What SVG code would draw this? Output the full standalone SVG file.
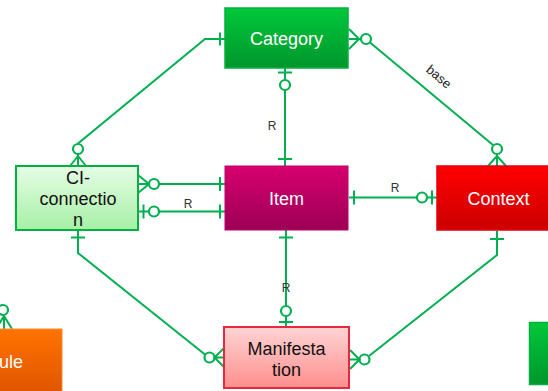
<svg xmlns="http://www.w3.org/2000/svg" width="548" height="391" viewBox="0 0 548 391">
<defs>
<linearGradient id="gGreen" x1="0" y1="0" x2="0" y2="1"><stop offset="0" stop-color="#00c83a"/><stop offset="1" stop-color="#00962c"/></linearGradient>
<linearGradient id="gLight" x1="0" y1="0" x2="0" y2="1"><stop offset="0" stop-color="#e6fde6"/><stop offset="1" stop-color="#a6f0a6"/></linearGradient>
<linearGradient id="gItem" x1="0" y1="0" x2="0" y2="1"><stop offset="0" stop-color="#d6006e"/><stop offset="1" stop-color="#9c0056"/></linearGradient>
<linearGradient id="gRed" x1="0" y1="0" x2="0" y2="1"><stop offset="0" stop-color="#ff0000"/><stop offset="1" stop-color="#cc0000"/></linearGradient>
<linearGradient id="gPink" x1="0" y1="0" x2="0" y2="1"><stop offset="0" stop-color="#ffd4d4"/><stop offset="1" stop-color="#ff8e8e"/></linearGradient>
<linearGradient id="gOrange" x1="0" y1="0" x2="0" y2="1"><stop offset="0" stop-color="#ff7300"/><stop offset="1" stop-color="#e05500"/></linearGradient>
</defs>
<style>
.lbl{font-family:"Liberation Sans",Arial,sans-serif;font-size:18px;text-anchor:middle}
.w{fill:#ffffff}
.k{fill:#111111}
.r{font-family:"Liberation Sans",Arial,sans-serif;font-size:12px;fill:#333333;text-anchor:middle}
.c{fill:none;stroke:#00b050;stroke-width:2}
.o{fill:#ffffff;stroke:#00b050;stroke-width:2.2}
</style>

<g id="connectors">
  <!-- Category - CI-connection -->
  <path class="c" d="M225,39 H205 L78,143.5 V166"/>
  <path class="c" d="M220,32.5 V45.5"/>
  <circle class="o" cx="78" cy="149" r="5"/>
  <path class="c" d="M70,166 L78,156 L86,166 M78,156 V166"/>

  <!-- Category - Context (base) -->
  <path class="c" d="M349,39 H361"/>
  <path class="c" d="M349,29 L359,39 L349,49"/>
  <circle class="o" cx="366" cy="39" r="5"/>
  <path class="c" d="M370,42.5 L493,145"/>
  <circle class="o" cx="497" cy="149" r="5"/>
  <path class="c" d="M488,166 L497,156 L506,166 M497,154 V166"/>
  <text class="r" transform="translate(436,80) rotate(40)" style="font-size:13px;fill:#222">base</text>

  <!-- Category - Item -->
  <path class="c" d="M285,68 V80 M285,90 V166"/>
  <path class="c" d="M278,72.5 H292"/>
  <circle class="o" cx="285" cy="85" r="5"/>
  <path class="c" d="M278,159 H292"/>
  <text class="r" x="272" y="130">R</text>

  <!-- CI-connection - Item (upper) -->
  <path class="c" d="M138,184 H225"/>
  <path class="c" d="M138,175 L149,184 L138,193"/>
  <circle class="o" cx="154" cy="184" r="5"/>
  <path class="c" d="M220,177 V191"/>

  <!-- CI-connection - Item (lower) -->
  <path class="c" d="M138,211.5 H225"/>
  <path class="c" d="M143.5,204.5 V218.5"/>
  <circle class="o" cx="154" cy="211.5" r="5"/>
  <path class="c" d="M220,204.5 V218.5"/>
  <text class="r" x="188" y="208">R</text>

  <!-- Item - Context -->
  <path class="c" d="M349,197.5 H437"/>
  <path class="c" d="M354,190.5 V204.5"/>
  <circle class="o" cx="422" cy="197.5" r="5"/>
  <path class="c" d="M432,190.5 V204.5"/>
  <text class="r" x="395" y="192">R</text>

  <!-- Item - Manifestation -->
  <path class="c" d="M286,230 V306 M286,316 V327"/>
  <path class="c" d="M279,237.5 H293"/>
  <circle class="o" cx="286" cy="311" r="5"/>
  <path class="c" d="M279,322 H293"/>
  <text class="r" x="286" y="292">R</text>

  <!-- CI-connection - Manifestation -->
  <path class="c" d="M78,230 V253 L205,354.5"/>
  <path class="c" d="M71,237.5 H85"/>
  <circle class="o" cx="209.5" cy="357.5" r="5"/>
  <path class="c" d="M224,348 L214.5,357.5 L224,367 M214.5,357.5 H224"/>

  <!-- Context - Manifestation -->
  <path class="c" d="M497,231 V255 L369,356"/>
  <path class="c" d="M490,239 H504"/>
  <circle class="o" cx="364.5" cy="359.5" r="5"/>
  <path class="c" d="M350,350 L359.5,359.5 L350,369 M350,359.5 H359.5"/>

  <!-- orange node connector (partial) -->
  <path class="c" d="M0,306 L-8,298"/>
  <circle class="o" cx="3" cy="310" r="5"/>
  <path class="c" d="M-4,329 L4,316 L12,329 M4,315 V329"/>
</g>

<g id="category">
  <rect x="225" y="8" width="123" height="60" fill="url(#gGreen)" stroke="#00b040" stroke-width="1.5"/>
  <text class="lbl w" x="286.5" y="45">Category</text>
</g>

<g id="ci-connection">
  <rect x="16" y="166" width="122" height="64" fill="url(#gLight)" stroke="#00b040" stroke-width="2"/>
  <text class="lbl k" x="78" y="184">CI-</text>
  <text class="lbl k" x="78" y="205">connectio</text>
  <text class="lbl k" x="78" y="226">n</text>
</g>

<g id="item">
  <rect x="225" y="166" width="123" height="64" fill="url(#gItem)" stroke="#c0006a" stroke-width="1"/>
  <text class="lbl w" x="286.5" y="205">Item</text>
</g>

<g id="context">
  <rect x="437" y="166" width="123" height="64" fill="url(#gRed)" stroke="#e00010" stroke-width="1.5"/>
  <text class="lbl w" x="498.5" y="205">Context</text>
</g>

<g id="manifestation">
  <rect x="224" y="327" width="125" height="61" fill="url(#gPink)" stroke="#e8283c" stroke-width="2"/>
  <text class="lbl k" x="286.5" y="355">Manifesta</text>
  <text class="lbl k" x="286.5" y="376">tion</text>
</g>

<g id="orange-node">
  <rect x="-61" y="329" width="123" height="64" fill="url(#gOrange)" stroke="#ff8a30" stroke-width="1"/>
  <text class="lbl w" x="23" y="368" style="text-anchor:end">ule</text>
</g>

<g id="green-node">
  <rect x="529.5" y="322.5" width="30" height="62" fill="url(#gGreen)" stroke="#00b040" stroke-width="1.5"/>
</g>
</svg>
